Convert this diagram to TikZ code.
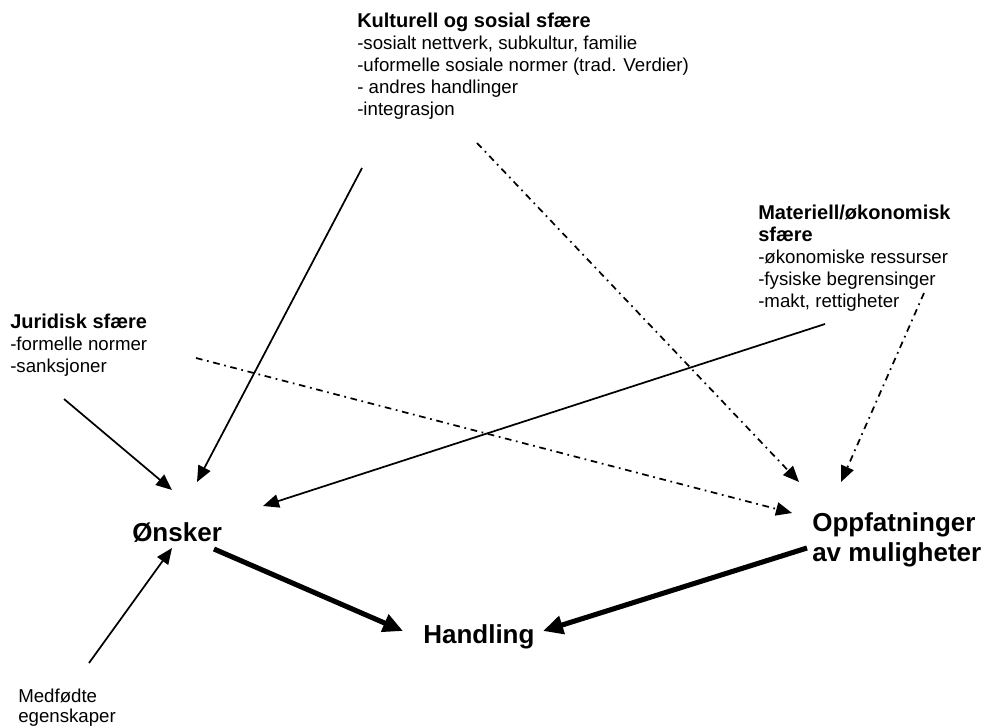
\documentclass[tikz,border=0pt]{standalone}
\usepackage{fontspec}
\setmainfont{Liberation Sans}
\usetikzlibrary{arrows.meta}
\begin{document}
\begin{tikzpicture}[x=0.75pt,y=-0.75pt,
  lbl/.style={inner sep=0pt, align=left, anchor=north west, font=\fontsize{14}{16.5}\selectfont},
  big/.style={inner sep=0pt, font=\fontsize{19.5}{22.5}\selectfont\bfseries},
  thinarrow/.style={line width=1.3pt, -{Triangle[length=12pt,width=10pt]}},
  dasharrow/.style={thinarrow, dash pattern=on 5pt off 3.5pt on 1.3pt off 3.5pt},
  thickarrow/.style={line width=3.8pt, -{Triangle[length=15pt,width=13.5pt]}}]
\useasboundingbox (0,0) rectangle (987,727);

% text blocks
\node[lbl] (kultur) at (357,13) {{\bfseries\fontsize{15}{16.5}\selectfont Kulturell og sosial sfære}\\
-sosialt nettverk, subkultur, familie\\
-uformelle sosiale normer (trad. Verdier)\\
- andres handlinger\\
-integrasjon};
\node[lbl] (materiell) at (758,205) {{\bfseries\fontsize{15}{16.5}\selectfont Materiell/økonomisk}\\
{\bfseries\fontsize{15}{16.5}\selectfont sfære}\\
-økonomiske ressurser\\
-fysiske begrensinger\\
-makt, rettigheter};
\node[lbl] (juridisk) at (10,314) {{\bfseries\fontsize{15}{16.5}\selectfont Juridisk sfære}\\
-formelle normer\\
-sanksjoner};
\node[lbl, font=\fontsize{14}{15}\selectfont] (medfodte) at (18,689) {Medfødte\\egenskaper};

\node[big, anchor=base west] (onsker) at (132,541) {Ønsker};
\node[big, anchor=base west] (handling) at (423,643) {Handling};
\node[big, anchor=north west, align=left] (oppf) at (812,512) {Oppfatninger\\av muligheter};

% connector end points
\coordinate (k1) at (362,168);
\coordinate (o1) at (197,482);
\coordinate (j1) at (64,399);
\coordinate (o2) at (172,490);
\coordinate (m1) at (825,324);
\coordinate (o3) at (263,506);
\coordinate (me1) at (89,663);
\coordinate (o4) at (172,548);
\coordinate (k2) at (477,143);
\coordinate (p1) at (799,482);
\coordinate (j2) at (196,358);
\coordinate (p2) at (792,513);
\coordinate (m2) at (924,293);
\coordinate (p3) at (841,482);
\coordinate (o5) at (214,549);
\coordinate (h1) at (403,631);
\coordinate (p4) at (807,548);
\coordinate (h2) at (543,631);

\draw[thinarrow] (k1) -- (o1);
\draw[thinarrow] (j1) -- (o2);
\draw[thinarrow] (m1) -- (o3);
\draw[thinarrow] (me1) -- (o4);
\draw[dasharrow] (k2) -- (p1);
\draw[dasharrow] (j2) -- (p2);
\draw[dasharrow] (m2) -- (p3);
\draw[thickarrow] (o5) -- (h1);
\draw[thickarrow] (p4) -- (h2);
\end{tikzpicture}
\end{document}
